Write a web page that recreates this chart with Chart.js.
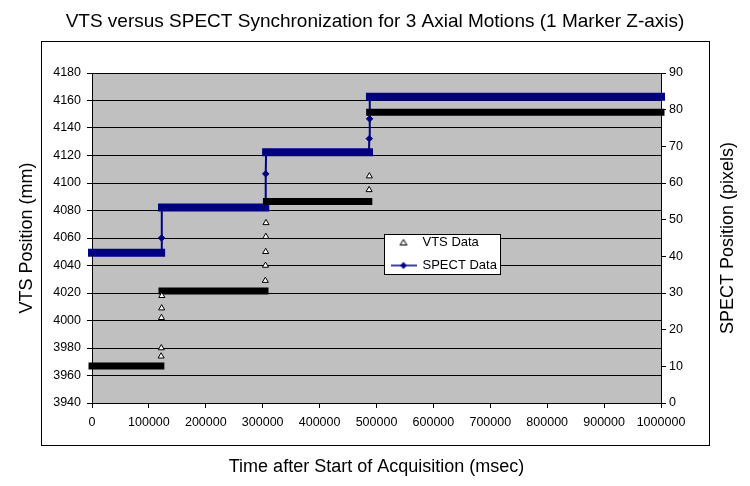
<!DOCTYPE html>
<html><head><meta charset="utf-8">
<script src="https://cdn.jsdelivr.net/npm/chart.js@4/dist/chart.umd.min.js"></script>
<style>html,body{margin:0;padding:0;background:#fff}canvas{display:block}</style>
</head><body>
<canvas id="c" width="750" height="486"></canvas>
<script>
const chartTitle = 'VTS versus SPECT Synchronization for 3 Axial Motions (1 Marker Z-axis)';
const xTitle = 'Time after Start of Acquisition (msec)';
const yLeftTitle = 'VTS Position (mm)';
const yRightTitle = 'SPECT Position (pixels)';
const seriesNames = ['VTS Data', 'SPECT Data'];

const xTicks = [0, 100000, 200000, 300000, 400000, 500000, 600000, 700000, 800000, 900000, 1000000];
const vtsTicks = [3940, 3960, 3980, 4000, 4020, 4040, 4060, 4080, 4100, 4120, 4140, 4160, 4180];
const spectTicks = [0, 10, 20, 30, 40, 50, 60, 70, 80, 90];

// VTS samples (time in msec, position in mm)
const vtsTime = [0, 121000, 121500, 121800, 122100, 122400, 122700, 123000,
                 304000, 304600, 304900, 305200, 305500, 305800, 306500,
                 486500, 487000, 487400, 488000, 1000000];
const vtsPos  = [3967, 3967, 3974, 3980, 4002, 4009, 4018, 4021.5,
                 4021.5, 4029, 4040, 4050, 4061, 4071, 4086.5,
                 4086.5, 4095, 4105, 4151.5, 4151.5];

// SPECT samples (time in msec, position in pixels)
const spectTime = [0, 121500, 122300, 123000, 304500, 305300, 306000, 486800, 487300, 487800, 488500, 1000000];
const spectPos  = [41, 41, 45, 53.3, 53.3, 62.5, 68.4, 68.4, 72.1, 77.5, 83.5, 83.5];

const FONT = 'Arial, "Liberation Sans", sans-serif';
const NAVY = '#000080';

function icon(draw) {
  const c = document.createElement('canvas');
  c.width = 26; c.height = 10;
  draw(c.getContext('2d'));
  return c;
}
const legendIcons = [
  icon(g => { g.beginPath(); g.moveTo(13, 2); g.lineTo(16.5, 7.5); g.lineTo(9.5, 7.5); g.closePath();
              g.fillStyle = '#f0f0f0'; g.fill(); g.strokeStyle = '#000'; g.lineWidth = 1; g.stroke(); }),
  icon(g => { g.strokeStyle = NAVY; g.lineWidth = 1.5; g.beginPath(); g.moveTo(0, 5); g.lineTo(26, 5); g.stroke();
              g.beginPath(); g.moveTo(13, 1.5); g.lineTo(16.5, 5); g.lineTo(13, 8.5); g.lineTo(9.5, 5); g.closePath();
              g.fillStyle = NAVY; g.fill(); })
];

function onPlateau(arr, i) {
  return (i > 0 && arr[i - 1] === arr[i]) || (i < arr.length - 1 && arr[i + 1] === arr[i]);
}

const framePlugin = {
  id: 'frame',
  beforeDraw(chart) {
    const {ctx, chartArea: a} = chart;
    ctx.save();
    ctx.fillStyle = '#fff'; ctx.fillRect(0, 0, chart.width, chart.height);
    ctx.strokeStyle = '#000'; ctx.lineWidth = 1;
    ctx.strokeRect(41.5, 41.5, 668, 404);
    ctx.fillStyle = '#c0c0c0'; ctx.fillRect(a.left, a.top, a.right - a.left, a.bottom - a.top);
    ctx.restore();
  },
  afterLayout(chart) {
    const lg = chart.legend;
    const w = lg.width, h = lg.height;
    lg.left = 381; lg.top = 226; lg.right = 381 + w; lg.bottom = 226 + h;
  },
  afterDatasetsDraw(chart) {
    const ctx = chart.ctx;
    ctx.save();
    ctx.fillStyle = '#fff'; ctx.fillRect(384, 234, 117, 40);
    ctx.strokeStyle = '#000'; ctx.lineWidth = 1; ctx.strokeRect(384.5, 234.5, 116, 40);
    ctx.restore();
    chart.legend.draw();
  },
  afterDraw(chart) {
    const y1 = chart.scales.y1;
    const ctx = chart.ctx;
    ctx.save();
    ctx.translate(728, (y1.top + y1.bottom) / 2);
    ctx.rotate(-Math.PI / 2);
    ctx.font = '18px ' + FONT;
    ctx.fillStyle = '#000'; ctx.textAlign = 'center'; ctx.textBaseline = 'middle';
    ctx.fillText(yRightTitle, 0, 0);
    ctx.restore();
  }
};

new Chart(document.getElementById('c'), {
  type: 'scatter',
  data: {
    datasets: [
      {
        label: seriesNames[0],
        yAxisID: 'y',
        data: vtsTime.map((t, i) => ({x: t, y: vtsPos[i]})),
        showLine: true,
        borderColor: '#000',
        borderWidth: 7,
        borderCapStyle: 'square',
        segment: { borderColor: c => c.p0.parsed.y === c.p1.parsed.y ? '#000' : 'rgba(0,0,0,0)' },
        pointStyle: 'triangle',
        pointRadius: c => onPlateau(vtsPos, c.dataIndex) ? 0 : 3.5,
        pointBorderColor: '#000',
        pointBackgroundColor: '#fff',
        pointBorderWidth: 1,
        clip: false
      },
      {
        label: seriesNames[1],
        yAxisID: 'y1',
        data: spectTime.map((t, i) => ({x: t, y: spectPos[i]})),
        showLine: true,
        borderColor: NAVY,
        borderWidth: 2,
        borderCapStyle: 'square',
        segment: { borderWidth: c => c.p0.parsed.y === c.p1.parsed.y ? 8 : 2 },
        pointStyle: 'rectRot',
        pointRadius: 3.2,
        pointBorderColor: NAVY,
        pointBackgroundColor: NAVY,
        pointBorderWidth: 1,
        clip: false
      }
    ]
  },
  options: {
    responsive: false,
    animation: false,
    devicePixelRatio: 1,
    events: [],
    layout: { padding: 0 },
    plugins: {
      title: {
        display: true, text: chartTitle, color: '#000',
        font: { family: FONT, size: 19, weight: 'normal' },
        padding: { top: 10, bottom: 40.2 }
      },
      legend: {
        display: true, position: 'chartArea', align: 'start',
        labels: {
          usePointStyle: true, pointStyleWidth: 25, padding: 10, color: '#000',
          font: { family: FONT, size: 13 },
          generateLabels(chart) {
            const items = Chart.defaults.plugins.legend.labels.generateLabels(chart);
            items.sort((a, b) => a.datasetIndex - b.datasetIndex);
            items.forEach(it => { it.pointStyle = legendIcons[it.datasetIndex]; it.fontColor = '#000'; });
            return items;
          }
        }
      },
      tooltip: { enabled: false }
    },
    scales: {
      x: {
        type: 'linear', position: 'bottom', min: 0, max: 1000000,
        afterBuildTicks: s => { s.ticks = xTicks.map(v => ({value: v})); },
        afterFit: s => { s.height = 83; },
        ticks: { color: '#000', font: { family: FONT, size: 12.5 }, padding: 7, maxRotation: 0, autoSkip: false,
                 callback: v => String(v) },
        grid: { drawOnChartArea: false, color: '#000', tickLength: 5 },
        border: { color: '#000' },
        title: { display: true, text: xTitle, color: '#000', font: { family: FONT, size: 18 }, padding: { top: 0, bottom: 8 } }
      },
      y: {
        type: 'linear', position: 'left', min: 3940, max: 4180,
        afterBuildTicks: s => { s.ticks = vtsTicks.map(v => ({value: v})); },
        afterFit: s => { s.width = 92; },
        ticks: { color: '#000', font: { family: FONT, size: 12.5 }, padding: 6, autoSkip: false, callback: v => String(v) },
        grid: { color: '#000', tickLength: 5 },
        border: { color: '#000' },
        title: { display: true, text: yLeftTitle, color: '#000', font: { family: FONT, size: 18 }, padding: { top: 16, bottom: 0 } }
      },
      y1: {
        type: 'linear', position: 'right', min: 0, max: 90,
        afterBuildTicks: s => { s.ticks = spectTicks.map(v => ({value: v})); },
        afterFit: s => { s.width = 89; },
        ticks: { color: '#000', font: { family: FONT, size: 12.5 }, padding: 3, autoSkip: false, callback: v => String(v) },
        grid: { drawOnChartArea: false, color: '#000', tickLength: 5 },
        border: { color: '#000' }
      }
    }
  },
  plugins: [framePlugin]
});
</script>
</body></html>
